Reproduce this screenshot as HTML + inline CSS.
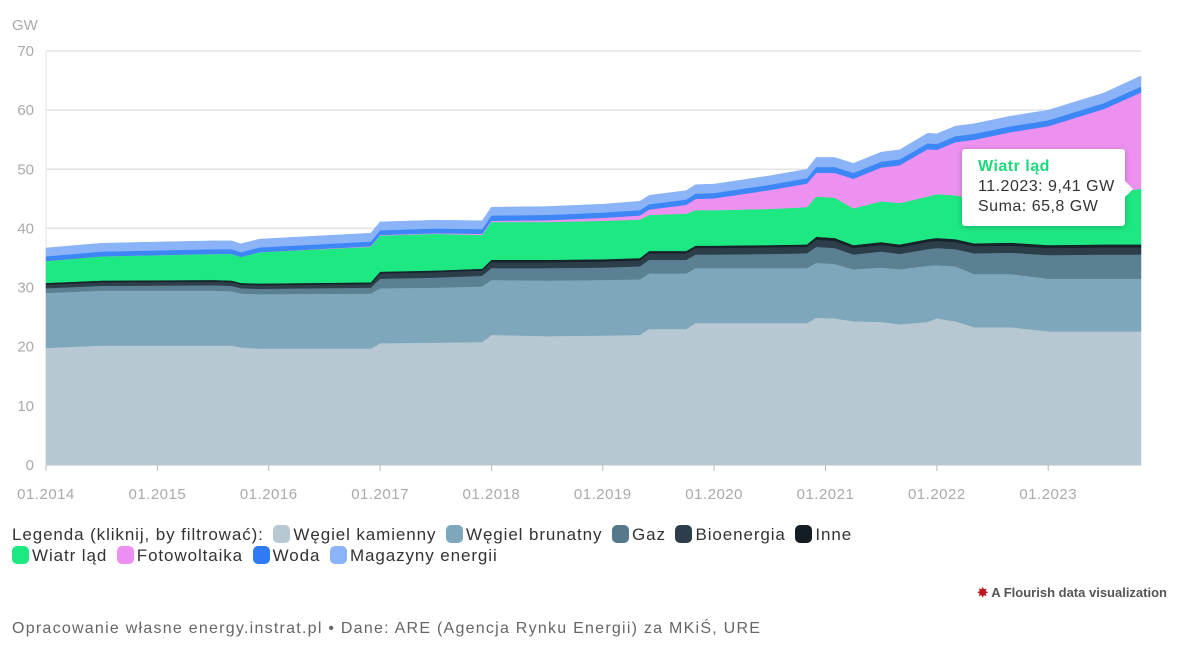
<!DOCTYPE html>
<html><head><meta charset="utf-8">
<style>
body{margin:0;background:#fff;font-family:"Liberation Sans",sans-serif;}
#wrap{position:relative;width:1187px;height:659px;overflow:hidden;}
.leg{position:absolute;left:12px;font-size:17px;color:#333;white-space:nowrap;letter-spacing:0.9px;}
.sw{display:inline-block;width:17px;height:18px;border-radius:5px;vertical-align:-3px;margin:0 3px 0 4px;}
.li{cursor:pointer;}
</style></head><body>
<div id="wrap">
<svg id="chart" width="1187" height="520" style="position:absolute;left:0;top:0"></svg>
<div class="leg" style="top:525px">Legenda (kliknij, by filtrować):
<span class="li"><span class="sw" style="background:#b8c8d2"></span>Węgiel kamienny</span>
<span class="li"><span class="sw" style="background:#7ea7bb"></span>Węgiel brunatny</span>
<span class="li"><span class="sw" style="background:#55798b"></span>Gaz</span>
<span class="li"><span class="sw" style="background:#2d3e4b"></span>Bioenergia</span>
<span class="li"><span class="sw" style="background:#141d24"></span>Inne</span></div>
<div class="leg" style="top:546px;left:8px">
<span class="li"><span class="sw" style="background:#1de882"></span>Wiatr ląd</span>
<span class="li"><span class="sw" style="background:#ed8ff2"></span>Fotowoltaika</span>
<span class="li"><span class="sw" style="background:#2f7bf5"></span>Woda</span>
<span class="li"><span class="sw" style="background:#8bb3f8"></span>Magazyny energii</span></div>
<div style="position:absolute;right:20px;top:585px;font-size:13px;font-weight:bold;color:#555"><span style="color:#c0141c">✸</span> A Flourish data visualization</div>
<div style="position:absolute;left:12px;top:620px;font-size:16px;color:#666;letter-spacing:1.25px">Opracowanie własne energy.instrat.pl • Dane: ARE (Agencja Rynku Energii) za MKiŚ, URE</div>
<div style="position:absolute;left:962px;top:149px;width:163px;height:77px;background:#fff;border-radius:3px;box-shadow:0 1px 6px rgba(0,0,0,.25);font-size:16px;color:#333;line-height:20px;padding:8px 0 0 16px;box-sizing:border-box;letter-spacing:0.5px">
<div style="color:#1dd87a;font-weight:bold">Wiatr ląd</div><div>11.2023: 9,41 GW</div><div>Suma: 65,8 GW</div></div>
<svg style="position:absolute;left:1124px;top:180px" width="10" height="18"><path d="M0 0 L9 9 L0 18 Z" fill="#fff"/></svg>
</div>
<script>
const months=[0,6,18,20,21,23,35,36,42,47,48,54,60,64,65,69,70,72,78,82,83,85,87,90,92,95,96,98,100,104,108,114,118];
const coal=[19.8,20.2,20.2,20.2,19.9,19.7,19.7,20.6,20.7,20.8,22.0,21.8,21.9,22.0,23.0,23.0,24.0,24.0,24.0,24.0,24.9,24.8,24.3,24.2,23.8,24.2,24.8,24.3,23.3,23.3,22.6,22.6,22.6];
const lignite=[9.3,9.3,9.3,9.2,9.1,9.2,9.3,9.3,9.3,9.4,9.3,9.4,9.4,9.4,9.4,9.4,9.3,9.3,9.3,9.3,9.3,9.2,8.8,9.2,9.3,9.5,9.0,9.3,9.0,9.0,8.9,8.9,8.9];
const gas=[0.8,0.8,0.9,0.9,0.9,0.9,1.0,1.6,1.7,1.8,2.0,2.1,2.1,2.2,2.3,2.3,2.3,2.3,2.4,2.5,2.7,2.7,2.5,2.7,2.6,2.8,2.9,2.9,3.5,3.6,4.0,4.1,4.1];
const bio=[0.6,0.6,0.6,0.6,0.6,0.6,0.6,0.9,0.9,0.9,1.0,1.0,1.0,1.0,1.1,1.1,1.1,1.1,1.1,1.1,1.2,1.2,1.1,1.1,1.1,1.2,1.2,1.2,1.2,1.2,1.2,1.2,1.2];
const other=[0.3,0.3,0.3,0.3,0.3,0.3,0.3,0.3,0.3,0.3,0.4,0.4,0.4,0.4,0.4,0.4,0.4,0.4,0.4,0.4,0.5,0.5,0.5,0.5,0.5,0.5,0.5,0.5,0.5,0.5,0.5,0.5,0.5];
const wind=[3.7,4.1,4.4,4.5,4.4,5.3,6.0,6.1,6.2,5.7,6.4,6.4,6.5,6.5,6.1,6.3,6.0,6.0,6.1,6.3,6.8,6.8,6.2,6.9,7.0,7.2,7.4,7.4,7.5,7.7,8.2,8.6,9.4];
const pv=[0,0,0,0,0,0,0.1,0.1,0.1,0.2,0.2,0.3,0.5,0.7,0.9,1.5,1.9,2.0,3.2,4.0,4.0,4.2,5.0,5.7,6.4,8.0,7.5,9.0,10.0,11.0,11.9,14.3,16.3];
const water=[0.8,0.8,0.8,0.8,0.8,0.8,0.8,0.8,0.8,0.8,0.9,0.9,0.9,0.9,0.9,0.9,0.9,0.9,0.9,0.9,1.0,1.0,1.0,1.0,1.0,1.0,1.0,1.0,1.0,1.0,1.0,1.0,1.0];
const storage=[1.4,1.4,1.4,1.4,1.4,1.4,1.4,1.4,1.4,1.4,1.4,1.4,1.4,1.5,1.5,1.5,1.5,1.5,1.5,1.5,1.6,1.6,1.6,1.6,1.6,1.7,1.7,1.7,1.7,1.7,1.7,1.7,1.8];
const yTicks=[0,10,20,30,40,50,60,70];
const xTickLabels=["01.2014","01.2015","01.2016","01.2017","01.2018","01.2019","01.2020","01.2021","01.2022","01.2023"];
const xTickMonths=[0,12,24,36,48,60,72,84,96,108];
const series=[["wegiel-kamienny",coal,"#b8c8d2"],["wegiel-brunatny",lignite,"#7ea7bb"],["gaz",gas,"#5b8092"],["bioenergia",bio,"#2d3e4b"],["inne",other,"#17232b"],["wiatr-lad",wind,"#1de882"],["fotowoltaika",pv,"#ed91f0"],["woda",water,"#3d86f5"],["magazyny-energii",storage,"#8bb3f8"]];
const X0=46,X1=1141,Y0=465,Y1=51;
const x=m=>X0+(X1-X0)*m/118;
const y=v=>Y0-(Y0-Y1)*v/70;
const svg=document.getElementById('chart');
const NS="http://www.w3.org/2000/svg";
function mk(t,a){const e=document.createElementNS(NS,t);for(const k in a)e.setAttribute(k,a[k]);svg.appendChild(e);return e;}
yTicks.forEach(v=>{
 const g=mk('line',{x1:X0,x2:X1,y1:y(v),y2:y(v),stroke:v===0?'#bbb':'#e3e3e3','stroke-width':v===0?1:1.5});
 
 
 const t=mk('text',{x:34,y:y(v)+5,'text-anchor':'end','font-size':15,fill:'#aaa','font-family':'Liberation Sans'});
 t.textContent=v;
 
 
});
const gw=mk('text',{x:12,y:30,'font-size':15,fill:'#aaa','font-family':'Liberation Sans'});gw.textContent='GW';


mk('line',{x1:X0,x2:X0,y1:Y1,y2:Y0,stroke:'#e3e3e3','stroke-width':1});
let base=months.map(()=>0);
series.forEach(([name,vals,col])=>{
 const top=base.map((b,i)=>b+vals[i]);
 let d='M'+months.map((m,i)=>x(m)+','+y(top[i])).join(' L');
 for(let i=months.length-1;i>=0;i--)d+=' L'+x(months[i])+','+y(base[i]);
 const p=mk('path',{d:d+'Z',fill:col,stroke:col,'stroke-width':0.5});
 
 
 base=top;
});
xTickMonths.forEach((m,i)=>{
 mk('line',{x1:x(m),x2:x(m),y1:Y0,y2:Y0+6,stroke:'#bbb'});
 const t=mk('text',{x:x(m),y:499,'text-anchor':'middle','font-size':15,fill:'#aaa','font-family':'Liberation Sans','letter-spacing':0.5});
 t.textContent=xTickLabels[i];
 
 
});
</script>
</body></html>
